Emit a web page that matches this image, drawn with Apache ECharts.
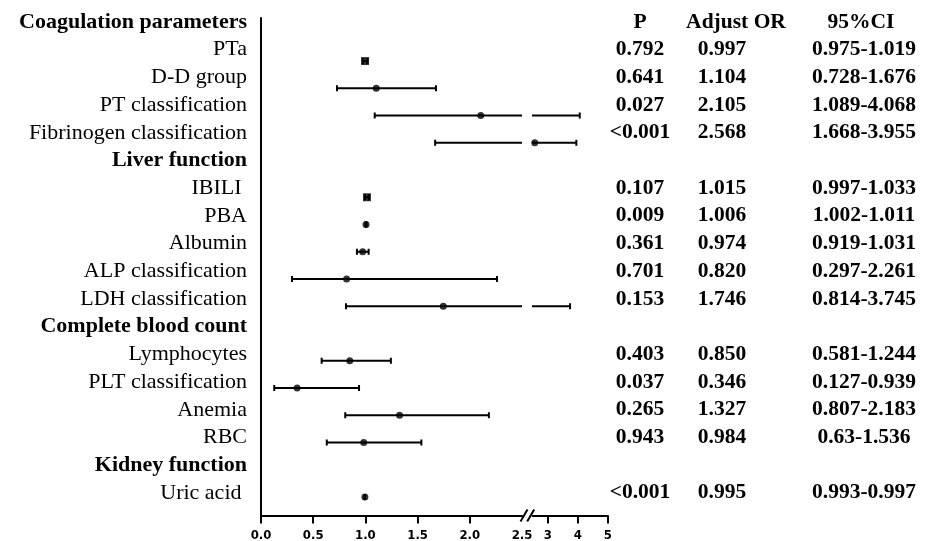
<!DOCTYPE html>
<html>
<head>
<meta charset="utf-8">
<script src="https://cdn.jsdelivr.net/npm/echarts@6/dist/echarts.min.js"></script>
<style>
  html, body { margin: 0; padding: 0; background: #fff; }
  #chart { width: 928px; height: 541px; }
</style>
</head>
<body>
<div id="chart"></div>
<script>
// Rows of the forest plot, top to bottom (group headings included)
const rowLabels = [
  'Coagulation parameters', 'PTa', 'D-D group', 'PT classification', 'Fibrinogen classification',
  'Liver function', 'IBILI ', 'PBA', 'Albumin', 'ALP classification', 'LDH classification',
  'Complete blood count', 'Lymphocytes', 'PLT classification', 'Anemia', 'RBC',
  'Kidney function', 'Uric acid '
];
const headerRows = ['Coagulation parameters', 'Liver function', 'Complete blood count', 'Kidney function'];
const squareRows = ['PTa', 'IBILI '];
const tableHeaders = ['P', 'Adjust OR', '95%CI'];

const pValues = [null, '0.792', '0.641', '0.027', '<0.001', null, '0.107', '0.009', '0.361', '0.701', '0.153',
  null, '0.403', '0.037', '0.265', '0.943', null, '<0.001'];
const adjustOR = [null, 0.997, 1.104, 2.105, 2.568, null, 1.015, 1.006, 0.974, 0.820, 1.746,
  null, 0.850, 0.346, 1.327, 0.984, null, 0.995];
const ciLower = [null, 0.975, 0.728, 1.089, 1.668, null, 0.997, 1.002, 0.919, 0.297, 0.814,
  null, 0.581, 0.127, 0.807, 0.63, null, 0.993];
const ciUpper = [null, 1.019, 1.676, 4.068, 3.955, null, 1.033, 1.011, 1.031, 2.261, 3.745,
  null, 1.244, 0.939, 2.183, 1.536, null, 0.997];

// Broken x axis: 0–2.5 on a wide scale, 2.5–5 compressed
const lowTicks = [0, 0.5, 1, 1.5, 2];
const lowLabels = [0, 0.5, 1, 1.5, 2, 2.5];
const highTicks = [3, 4, 5];

const INK = '#000';
const serif = '"Liberation Serif", "Times New Roman", serif';
const narrow = '"Liberation Sans Narrow", "DejaVu Sans Condensed", "Arial Narrow", sans-serif';

// Table columns derived from the values above
const pCol = pValues.map((v, i) => i === 0 ? tableHeaders[0] : (v == null ? '' : v));
const orCol = adjustOR.map((v, i) => i === 0 ? tableHeaders[1] : (v == null ? '' : v.toFixed(3)));
const ciCol = ciLower.map((lo, i) => i === 0 ? tableHeaders[2] : (lo == null ? '' : lo + '-' + ciUpper[i]));

const barData = [];
const pointData = [];
rowLabels.forEach((name, i) => {
  if (adjustOR[i] == null) return;
  barData.push([ciLower[i], ciUpper[i], i]);
  pointData.push({
    value: [adjustOR[i], i],
    symbol: squareRows.includes(name) ? 'rect' : 'circle',
    symbolSize: squareRows.includes(name) ? 8 : 7
  });
});

function renderBar(params, api) {
  const lo = api.coord([api.value(0), api.value(2)]);
  const hi = api.coord([api.value(1), api.value(2)]);
  const cap = 3;
  const st = { stroke: INK, lineWidth: 2 };
  return {
    type: 'group',
    children: [
      { type: 'line', shape: { x1: lo[0], y1: lo[1], x2: hi[0], y2: hi[1] }, style: st },
      { type: 'line', shape: { x1: lo[0], y1: lo[1] - cap, x2: lo[0], y2: lo[1] + cap }, style: st },
      { type: 'line', shape: { x1: hi[0], y1: hi[1] - cap, x2: hi[0], y2: hi[1] + cap }, style: st }
    ]
  };
}

const rowMin = -0.58, rowMax = 17.68;
const tableFont = { fontFamily: serif, fontSize: 21.5, fontWeight: 'bold', color: INK };

function tableAxis(col, offset, headerPad) {
  return {
    type: 'category', gridIndex: 2, inverse: true, position: 'left', offset: offset,
    data: rowLabels,
    axisLine: { show: false }, axisTick: { show: false }, splitLine: { show: false },
    axisLabel: {
      interval: 0, margin: 0, align: 'center',
      formatter: (v, i) => i === 0 ? '{h|' + col[i] + '}' : '{v|' + col[i] + '}',
      rich: {
        v: Object.assign({}, tableFont),
        h: Object.assign({ padding: headerPad }, tableFont)
      }
    }
  };
}

const chart = echarts.init(document.getElementById('chart'), null, { renderer: 'canvas' });

const axisLineStyle = { color: INK, width: 2 };
const tickLabel = { fontFamily: narrow, fontSize: 13, fontWeight: 'bold', color: INK, margin: 14 };

chart.setOption({
  animation: false,
  backgroundColor: '#fff',
  grid: [
    { left: 261, top: 18, width: 261, height: 497.5, outerBoundsMode: 'none' },
    { left: 532.7, top: 18, width: 75, height: 497.5, outerBoundsMode: 'none' },
    { left: 247, top: 8.15, width: 681, height: 498.6, outerBoundsMode: 'none' }
  ],
  xAxis: [
    {
      type: 'value', gridIndex: 0, min: 0, max: 2.5, position: 'bottom',
      axisLine: { show: true, onZero: false, lineStyle: axisLineStyle },
      axisTick: { show: true, customValues: lowTicks, length: 8, lineStyle: axisLineStyle },
      axisLabel: Object.assign({ customValues: lowLabels, formatter: v => Number(v).toFixed(1) }, tickLabel),
      splitLine: { show: false }
    },
    {
      type: 'value', gridIndex: 1, min: 2.5, max: 5, position: 'bottom',
      axisLine: { show: true, onZero: false, lineStyle: axisLineStyle },
      axisTick: { show: true, customValues: highTicks, length: 8, lineStyle: axisLineStyle },
      axisLabel: Object.assign({ customValues: highTicks, formatter: v => String(v) }, tickLabel),
      splitLine: { show: false }
    },
    { type: 'value', gridIndex: 2, show: false }
  ],
  yAxis: [
    {
      type: 'value', gridIndex: 0, inverse: true, min: rowMin, max: rowMax,
      axisLine: { show: true, onZero: false, lineStyle: axisLineStyle },
      axisTick: { show: false }, axisLabel: { show: false }, splitLine: { show: false }
    },
    {
      type: 'value', gridIndex: 1, inverse: true, min: rowMin, max: rowMax, show: false
    },
    {
      type: 'category', gridIndex: 2, inverse: true, data: rowLabels,
      axisLine: { show: false }, axisTick: { show: false }, splitLine: { show: false },
      axisLabel: {
        interval: 0, margin: 0,
        formatter: v => headerRows.includes(v) ? '{b|' + v + '}' : '{r|' + v + '}',
        rich: {
          b: { fontFamily: serif, fontSize: 22, fontWeight: 'bold', color: INK },
          r: { fontFamily: serif, fontSize: 22, color: INK }
        }
      }
    },
    tableAxis(pCol, 247 - 640, [0, 0, 0, 0]),
    tableAxis(orCol, 247 - 722, [0, 0, 0, 28]),
    tableAxis(ciCol, 247 - 864, [0, 6, 0, 0])
  ],
  series: [
    { type: 'custom', xAxisIndex: 0, yAxisIndex: 0, clip: true, renderItem: renderBar, data: barData, z: 2 },
    { type: 'custom', xAxisIndex: 1, yAxisIndex: 1, clip: true, renderItem: renderBar, data: barData, z: 2 },
    { type: 'scatter', xAxisIndex: 0, yAxisIndex: 0, clip: true, data: pointData, itemStyle: { color: INK }, z: 3 },
    { type: 'scatter', xAxisIndex: 1, yAxisIndex: 1, clip: true, data: pointData, itemStyle: { color: INK }, z: 3 }
  ]
});

// Double-slash marks where the x axis is broken
const xa = chart.convertToPixel({ xAxisIndex: 0 }, 2.5);
const xb = chart.convertToPixel({ xAxisIndex: 1 }, 2.5);
const yBase = chart.convertToPixel({ yAxisIndex: 0 }, rowMax);
const slash = cx => ({
  type: 'line',
  shape: { x1: cx - 3.5, y1: yBase + 6, x2: cx + 3.5, y2: yBase - 6 },
  style: { stroke: INK, lineWidth: 2 }
});
chart.setOption({ graphic: [slash(xa + 2), slash(xb - 2)] });
</script>
</body>
</html>
